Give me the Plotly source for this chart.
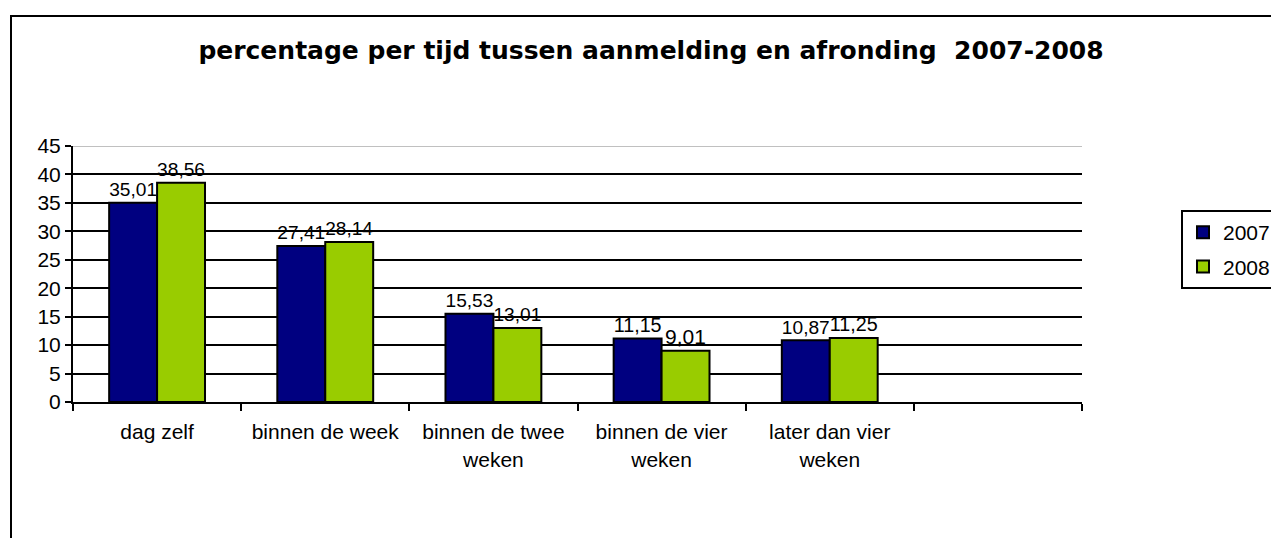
import plotly.graph_objects as go

categories = ["dag zelf", "binnen de week", "binnen de twee<br>weken", "binnen de vier<br>weken", "later dan vier<br>weken"]
series_names = ["2007", "2008"]
values_2007 = [35.01, 27.41, 15.53, 11.15, 10.87]
values_2008 = [38.56, 28.14, 13.01, 9.01, 11.25]
colors = ["#000080", "#99CC00"]
y_ticks = [0, 5, 10, 15, 20, 25, 30, 35, 40, 45]

OFF = 8  # page body margin
W, H = 1279 - OFF, 538 - OFF
L = 73 - OFF
T = 146 - OFF
R = W - (1082 - OFF)
B = H - (402 - OFF)
pw, ph = W - L - R, H - T - B

def px_x(p):  # screenshot pixel -> paper
    return (p - OFF - L) / pw

def px_y(p):
    return (H - B - (p - OFF)) / ph

def fmt(v):
    return f"{v:.2f}".replace(".", ",")

FONT = "Liberation Sans, Arial"
FS = 21

xs = list(range(len(categories)))
fig = go.Figure()
for i, (name, vals, col) in enumerate(zip(series_names, [values_2007, values_2008], colors)):
    fig.add_trace(go.Bar(
        x=xs, y=vals, name=name, legendgroup=f"g{i}",
        marker=dict(color=col, line=dict(color="black", width=2)),
        text=[fmt(v) for v in vals], textposition="outside",
        textfont=dict(family=FONT, size=FS, color="black"),
        cliponaxis=False,
    ))

fig.update_layout(
    width=W, height=H,
    margin=dict(l=L, r=R, t=T, b=B, autoexpand=False),
    paper_bgcolor="white", plot_bgcolor="white",
    barmode="group", bargap=0.43, bargroupgap=0,
    font=dict(family=FONT, size=FS, color="black"),
    title=dict(text="<b>percentage per tijd tussen aanmelding en afronding  2007-2008</b>",
               x=px_x(651), xref="paper", xanchor="center",
               y=1 - (50 - OFF) / H, yanchor="middle",
               font=dict(family="DejaVu Sans", size=25, color="black")),
    showlegend=True,
    legend=dict(x=px_x(1277), y=px_y(210), xanchor="right", yanchor="top",
                bordercolor="black", borderwidth=2, bgcolor="white",
                font=dict(size=FS), itemwidth=30, tracegroupgap=4),
)
fig.update_xaxes(
    range=[-0.5, 5.5], tickmode="array", tickvals=xs, ticktext=categories,
    ticks="", showgrid=False, showline=True, linecolor="black", linewidth=2,
    minor=dict(tickmode="linear", tick0=0.5, dtick=1, ticks="outside", ticklen=7,
               tickwidth=2, tickcolor="black", showgrid=False),
    tickfont=dict(size=FS), zeroline=False, ticklabelstandoff=10,
)
fig.update_yaxes(
    range=[0, 45], tickmode="array", tickvals=y_ticks,
    ticks="outside", ticklen=6, tickwidth=2, tickcolor="black",
    showgrid=True, gridcolor="black", gridwidth=2,
    showline=True, linecolor="black", linewidth=2, zeroline=False,
    tickfont=dict(size=FS),
)
# light top gridline at 45
fig.add_shape(type="line", xref="paper", yref="y", x0=0, x1=1, y0=45, y1=45,
              line=dict(color="#C0C0C0", width=2), layer="above")
# chart frame
fig.add_shape(type="rect", xref="paper", yref="paper",
              x0=px_x(11), x1=px_x(1300), y0=px_y(16), y1=px_y(560),
              line=dict(color="black", width=2), fillcolor="rgba(0,0,0,0)", layer="below")

fig.write_html("out.html")
